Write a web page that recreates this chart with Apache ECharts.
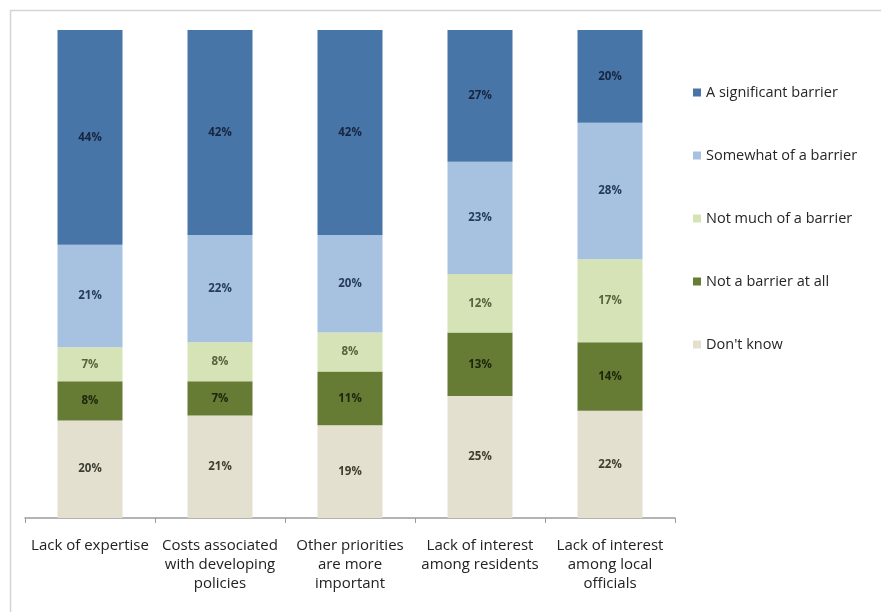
<!DOCTYPE html>
<html>
<head>
<meta charset="utf-8">
<title>Barriers to developing policies</title>
<script src="https://cdn.jsdelivr.net/npm/echarts@6/dist/echarts.min.js"></script>
<style>
  html, body { margin: 0; padding: 0; background: #ffffff; }
  #chart { width: 881px; height: 612px; }
</style>
</head>
<body>
<div id="chart"></div>
<script>
// Survey categories (x axis)
const categories = [
  'Lack of expertise',
  'Costs associated\nwith developing\npolicies',
  'Other priorities\nare more\nimportant',
  'Lack of interest\namong residents',
  'Lack of interest\namong local\nofficials'
];

// Shares of respondents (%) per answer
const significantBarrier = [44, 42, 42, 27, 20];
const somewhatBarrier    = [21, 22, 20, 23, 28];
const notMuchBarrier     = [7, 8, 8, 12, 17];
const notBarrierAtAll    = [8, 7, 11, 13, 14];
const dontKnow           = [20, 21, 19, 25, 22];

// Legend order (top to bottom)
const legendNames = [
  'A significant barrier',
  'Somewhat of a barrier',
  'Not much of a barrier',
  'Not a barrier at all',
  "Don't know"
];

const font = '"Open Sans", Lato, sans-serif';

// Stack from the bottom up
const stackSpec = [
  { name: "Don't know",            data: dontKnow,           color: '#e4e0cf', text: '#3e3e30' },
  { name: 'Not a barrier at all',  data: notBarrierAtAll,    color: '#667b34', text: '#1c260c' },
  { name: 'Not much of a barrier', data: notMuchBarrier,     color: '#d6e3b6', text: '#56633f' },
  { name: 'Somewhat of a barrier', data: somewhatBarrier,    color: '#a7c1e0', text: '#263a5e' },
  { name: 'A significant barrier', data: significantBarrier, color: '#4875a7', text: '#17253f' }
];

const chart = echarts.init(document.getElementById('chart'), null, { renderer: 'canvas' });

chart.setOption({
  backgroundColor: '#ffffff',
  animation: false,
  graphic: [{
    type: 'rect',
    left: 8, top: 8,
    shape: { width: 1000, height: 1000 },
    style: { fill: 'none', stroke: '#d4d4d4', lineWidth: 1.5 },
    silent: true,
    z: -1
  }],
  grid: { left: 25, right: 206, top: 30, bottom: 94, containLabel: false },
  legend: {
    orient: 'vertical',
    left: 688,
    top: 80,
    data: legendNames,
    icon: 'rect',
    itemWidth: 8,
    itemHeight: 8,
    itemGap: 48,
    itemStyle: { borderWidth: 0 },
    textStyle: { fontFamily: font, fontSize: 14.5, color: '#262626' }
  },
  xAxis: {
    type: 'category',
    data: categories,
    axisLine: { lineStyle: { color: '#9a9a9a', width: 1.5 } },
    axisTick: { show: true, length: 5, lineStyle: { color: '#9a9a9a' } },
    axisLabel: {
      interval: 0,
      margin: 18,
      fontFamily: font,
      fontSize: 15,
      lineHeight: 19,
      color: '#222222',
      align: 'center'
    }
  },
  yAxis: {
    type: 'value',
    min: 0,
    max: 100,
    show: false,
    splitLine: { show: false }
  },
  series: stackSpec.map(s => ({
    name: s.name,
    type: 'bar',
    stack: 'total',
    barWidth: '50%',
    clip: true,
    data: s.data,
    itemStyle: { color: s.color },
    label: {
      show: true,
      position: 'inside',
      formatter: p => p.value + '%',
      fontFamily: font,
      fontSize: 11.5,
      fontWeight: 'bold',
      color: s.text
    }
  }))
});
</script>
</body>
</html>
